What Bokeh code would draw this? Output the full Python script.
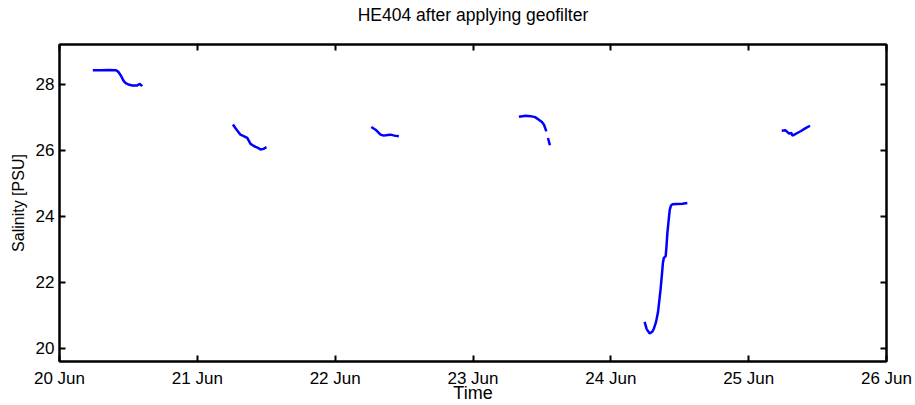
import numpy as np
import pandas as pd
from bokeh.plotting import figure
from bokeh.models import LinearAxis, DatetimeAxis, FixedTicker, DatetimeTickFormatter, Range1d
from bokeh.embed import file_html
from bokeh.resources import INLINE

# Time in fractional days after 20 Jun 00:00, salinity in PSU; NaN separates track pieces
t_days = [
    0.242, 0.30, 0.36, 0.41, 0.425, 0.445, 0.465, 0.48, 0.50, 0.528, 0.564, 0.583, 0.590, 0.600, np.nan,
    1.258, 1.285, 1.313, 1.340, 1.362, 1.386, 1.405, 1.422, 1.440, 1.459, 1.480, 1.502, np.nan,
    2.262, 2.293, 2.329, 2.353, 2.380, 2.402, 2.430, 2.462, np.nan,
    3.333, 3.360, 3.382, 3.418, 3.450, 3.478, 3.500, 3.515, 3.532, np.nan,
    3.544, 3.558, np.nan,
    4.245, 4.260, 4.282, 4.300, 4.313, 4.328, 4.342, 4.352, 4.361, 4.370, 4.378, 4.385, 4.398, 4.404,
    4.410, 4.420, 4.427, 4.436, 4.446, 4.48, 4.52, 4.555, np.nan,
    5.240, 5.268, 5.293, 5.310, 5.317, 5.335, 5.353, 5.38, 5.41, 5.445,
]
salinity = [
    28.42, 28.42, 28.43, 28.42, 28.38, 28.26, 28.10, 28.03, 27.99, 27.96, 27.96, 28.01, 27.98, 27.94, np.nan,
    26.78, 26.62, 26.47, 26.42, 26.37, 26.19, 26.14, 26.10, 26.07, 26.02, 26.04, 26.09, np.nan,
    26.70, 26.62, 26.47, 26.44, 26.46, 26.47, 26.44, 26.42, np.nan,
    27.01, 27.03, 27.04, 27.03, 27.00, 26.92, 26.85, 26.77, 26.57, np.nan,
    26.37, 26.15, np.nan,
    20.80, 20.58, 20.45, 20.50, 20.60, 20.80, 21.09, 21.45, 21.79, 22.20, 22.59, 22.74, 22.79, 23.10,
    23.48, 23.90, 24.18, 24.32, 24.36, 24.37, 24.38, 24.40, np.nan,
    26.59, 26.60, 26.50, 26.52, 26.44, 26.48, 26.52, 26.58, 26.66, 26.74,
]
tick_labels = ["20 Jun", "21 Jun", "22 Jun", "23 Jun", "24 Jun", "25 Jun", "26 Jun"]
y_ticks = [20, 22, 24, 26, 28]
x_label = "Time"
y_label = "Salinity [PSU]"
title_text = "HE404 after applying geofilter"

start = pd.Timestamp("2013-06-20")
epoch = pd.Timestamp("1970-01-01")
t_ms = np.array([((start + pd.Timedelta(days=d)) - epoch).total_seconds() * 1000 if not np.isnan(d) else np.nan
                 for d in t_days])
tick_ms = [((start + pd.Timedelta(days=i)) - epoch).total_seconds() * 1000 for i in range(len(tick_labels))]

FONT = "Liberation Sans"

p = figure(width=915, height=405, output_backend="svg", toolbar_location=None,
           x_axis_type="datetime",
           x_range=Range1d(tick_ms[0], tick_ms[-1]), y_range=Range1d(19.6, 29.2),
           min_border_left=59, min_border_right=29, min_border_top=42, min_border_bottom=43,
           title=title_text)
p.title.align = "center"
p.title.text_font = FONT
p.title.text_font_size = "17.5px"
p.title.text_font_style = "normal"
p.title.text_color = "black"
p.title.offset = 0
p.title.standoff = 4

p.line(t_ms, salinity, line_color="#0000ff", line_width=2.5)

p.grid.visible = False
p.outline_line_color = "black"
p.outline_line_width = 2
p.background_fill_color = "white"
p.border_fill_color = "white"

def style_axis(ax, labels=True):
    ax.axis_line_color = "black"
    ax.axis_line_width = 2
    ax.major_tick_line_color = "black"
    ax.major_tick_line_width = 2
    ax.major_tick_in = 6
    ax.major_tick_out = 0
    ax.minor_tick_line_color = None
    ax.major_label_text_font = FONT
    ax.major_label_text_font_size = "17px"
    ax.major_label_text_color = "black"
    ax.axis_label_text_font = FONT
    ax.axis_label_text_font_size = "16px"
    ax.axis_label_text_font_style = "normal"
    ax.axis_label_text_color = "black"
    if not labels:
        ax.major_label_text_font_size = "0px"
        ax.major_label_text_color = None

xax = p.xaxis[0]
xax.ticker = FixedTicker(ticks=tick_ms)
xax.formatter = DatetimeTickFormatter(days="%d %b", months="%d %b", hours="%d %b")
xax.major_label_overrides = {tick_ms[i]: tick_labels[i] for i in range(len(tick_labels))}
xax.axis_label = x_label
xax.major_label_standoff = 7
xax.axis_label_standoff = -8
style_axis(xax)
xax.axis_label_text_font_size = "18px"

yax = p.yaxis[0]
yax.ticker = FixedTicker(ticks=y_ticks)
yax.axis_label = y_label
yax.major_label_standoff = 5
yax.axis_label_standoff = 6
style_axis(yax)

top = DatetimeAxis(ticker=FixedTicker(ticks=tick_ms))
style_axis(top, labels=False)
p.add_layout(top, "above")

# invisible spacer between the top axis and the title
spacer = DatetimeAxis(ticker=FixedTicker(ticks=tick_ms))
style_axis(spacer, labels=False)
spacer.axis_line_color = None
spacer.major_tick_line_color = None
spacer.major_tick_in = 0
spacer.major_tick_out = 18
p.add_layout(spacer, "above")

right = LinearAxis(ticker=FixedTicker(ticks=y_ticks))
style_axis(right, labels=False)
p.add_layout(right, "right")

open("out.html", "w").write(file_html(p, INLINE))
